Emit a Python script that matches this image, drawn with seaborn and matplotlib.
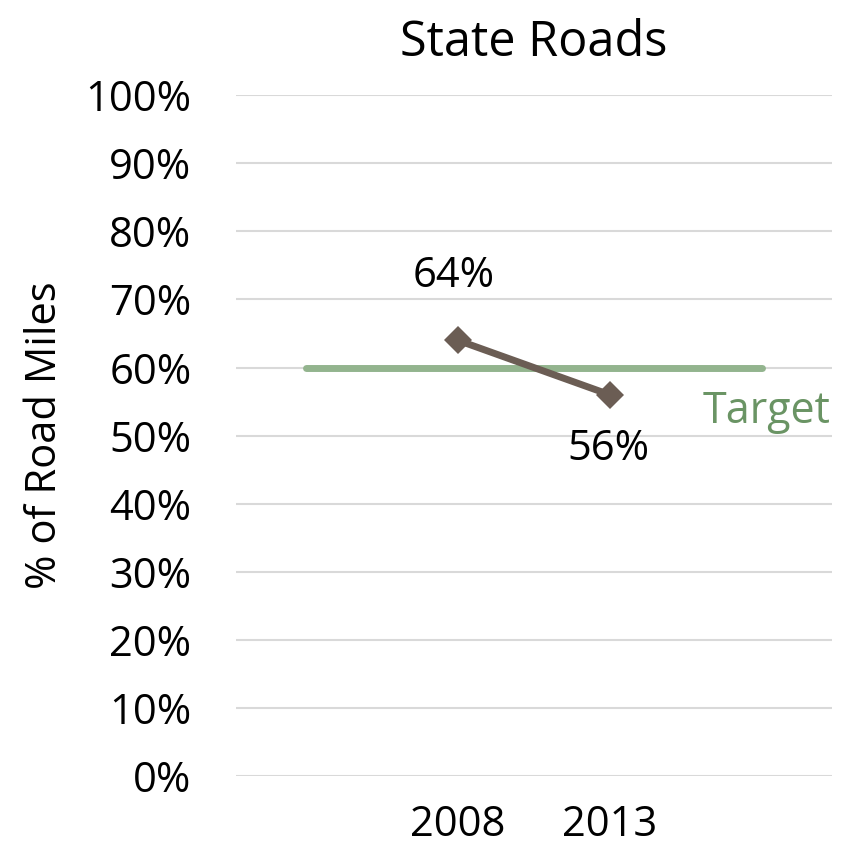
import pandas as pd
import matplotlib.pyplot as plt
import seaborn as sns

# values
years = ["2008", "2013"]
pct_good = [64, 56]
target = 60
target_span = [-1, 2]

df = pd.DataFrame({"pos": range(len(years)), "pct": pct_good})

sns.set_style("white")
plt.rcParams["font.family"] = ["Open Sans", "DejaVu Sans"]
plt.rcParams["text.color"] = "black"
plt.rcParams["xtick.color"] = "black"
plt.rcParams["ytick.color"] = "black"
plt.rcParams["axes.labelcolor"] = "black"

fig = plt.figure(figsize=(8.46, 8.5), dpi=100)
ax = fig.add_axes([0.279, 0.087, 0.704, 0.801])

# grid lines
for v in range(0, 101, 10):
    ax.axhline(v, color="#D9D9D9", lw=1.5, zorder=0)

# target line
sns.lineplot(x=target_span, y=[target, target], ax=ax, color="#93B48E",
             lw=5, solid_capstyle="round", zorder=2)

# main series
sns.lineplot(data=df, x="pos", y="pct", ax=ax, color="#6B5D54", lw=5,
             marker="D", markersize=14, markeredgewidth=0, zorder=3)

for i, v in enumerate(pct_good):
    dy = 9.5 if v > target else -8
    ax.text(i - 0.03 if v > target else i - 0.01, v + dy, f"{v}%",
            ha="center", va="center", fontsize=30)

ax.text(2.45, 53.5, "Target", ha="right", va="center", fontsize=31,
        color="#6A9464")

ax.set_xlim(-1.46, 2.46)
ax.set_ylim(0, 100)
ax.set_xticks(range(len(years)))
ax.set_xticklabels(years)
ax.set_yticks(range(0, 101, 10))
ax.set_yticklabels([f"{v}%" for v in range(0, 101, 10)])
ax.tick_params(axis="both", labelsize=30, length=0)
ax.tick_params(axis="y", pad=32)
ax.tick_params(axis="x", pad=20)
ax.set_xlabel("")
ax.set_ylabel("% of Road Miles", fontsize=30, labelpad=14)
ax.set_title("State Roads", fontsize=35, pad=28)
for s in ax.spines.values():
    s.set_visible(False)

fig.savefig("out.png", dpi=100)
